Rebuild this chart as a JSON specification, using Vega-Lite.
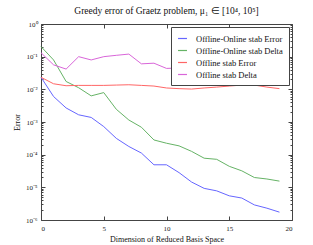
{
  "$schema": "https://vega.github.io/schema/vega-lite/v6.json",
  "autosize": "none",
  "width": 251,
  "height": 196,
  "padding": {"left": 41, "top": 24, "right": 21, "bottom": 25},
  "background": "white",
  "config": {
    "font": "Liberation Serif",
    "view": {"stroke": null},
    "axis": {"domainColor": "#444", "tickColor": "#444", "labelColor": "#222", "titleColor": "#111", "grid": false, "labelFont": "Liberation Serif", "titleFont": "Liberation Serif", "titleFontWeight": "normal"}
  },
  "title": {"text": "Greedy error of Graetz problem, μ₁ ∈ [10⁴, 10⁵]", "fontSize": 9.5, "fontWeight": "normal", "font": "Liberation Serif", "color": "#111", "anchor": "middle", "offset": 5},
  "data": {"values": [
    {"d":0,"s":"Offline-Online stab Error","v":0.0234},{"d":1,"s":"Offline-Online stab Error","v":0.00603},{"d":2,"s":"Offline-Online stab Error","v":0.00269},{"d":3,"s":"Offline-Online stab Error","v":0.00166},{"d":4,"s":"Offline-Online stab Error","v":0.00138},{"d":5,"s":"Offline-Online stab Error","v":0.000724},{"d":6,"s":"Offline-Online stab Error","v":0.000316},{"d":7,"s":"Offline-Online stab Error","v":0.000178},{"d":8,"s":"Offline-Online stab Error","v":0.000112},{"d":9,"s":"Offline-Online stab Error","v":0.000049},{"d":10,"s":"Offline-Online stab Error","v":0.000049},{"d":11,"s":"Offline-Online stab Error","v":0.0000282},{"d":12,"s":"Offline-Online stab Error","v":0.0000145},{"d":13,"s":"Offline-Online stab Error","v":0.0000093},{"d":14,"s":"Offline-Online stab Error","v":0.0000078},{"d":15,"s":"Offline-Online stab Error","v":0.0000055},{"d":16,"s":"Offline-Online stab Error","v":0.0000047},{"d":17,"s":"Offline-Online stab Error","v":0.0000029},{"d":18,"s":"Offline-Online stab Error","v":0.0000023},{"d":19,"s":"Offline-Online stab Error","v":0.00000174},
    {"d":0,"s":"Offline-Online stab Delta","v":0.204},{"d":1,"s":"Offline-Online stab Delta","v":0.0794},{"d":2,"s":"Offline-Online stab Delta","v":0.0174},{"d":3,"s":"Offline-Online stab Delta","v":0.0112},{"d":4,"s":"Offline-Online stab Delta","v":0.00631},{"d":5,"s":"Offline-Online stab Delta","v":0.00794},{"d":6,"s":"Offline-Online stab Delta","v":0.00245},{"d":7,"s":"Offline-Online stab Delta","v":0.00115},{"d":8,"s":"Offline-Online stab Delta","v":0.000692},{"d":9,"s":"Offline-Online stab Delta","v":0.000282},{"d":10,"s":"Offline-Online stab Delta","v":0.000224},{"d":11,"s":"Offline-Online stab Delta","v":0.000186},{"d":12,"s":"Offline-Online stab Delta","v":0.000126},{"d":13,"s":"Offline-Online stab Delta","v":0.000078},{"d":14,"s":"Offline-Online stab Delta","v":0.000072},{"d":15,"s":"Offline-Online stab Delta","v":0.000044},{"d":16,"s":"Offline-Online stab Delta","v":0.000032},{"d":17,"s":"Offline-Online stab Delta","v":0.00002},{"d":18,"s":"Offline-Online stab Delta","v":0.000018},{"d":19,"s":"Offline-Online stab Delta","v":0.0000155},
    {"d":0,"s":"Offline stab Error","v":0.0234},{"d":1,"s":"Offline stab Error","v":0.0148},{"d":2,"s":"Offline stab Error","v":0.0129},{"d":3,"s":"Offline stab Error","v":0.0132},{"d":4,"s":"Offline stab Error","v":0.0132},{"d":5,"s":"Offline stab Error","v":0.0132},{"d":6,"s":"Offline stab Error","v":0.0135},{"d":7,"s":"Offline stab Error","v":0.0138},{"d":8,"s":"Offline stab Error","v":0.0132},{"d":9,"s":"Offline stab Error","v":0.0126},{"d":10,"s":"Offline stab Error","v":0.011},{"d":11,"s":"Offline stab Error","v":0.0105},{"d":12,"s":"Offline stab Error","v":0.0102},{"d":13,"s":"Offline stab Error","v":0.011},{"d":14,"s":"Offline stab Error","v":0.0117},{"d":15,"s":"Offline stab Error","v":0.0126},{"d":16,"s":"Offline stab Error","v":0.0135},{"d":17,"s":"Offline stab Error","v":0.0135},{"d":18,"s":"Offline stab Error","v":0.0117},{"d":19,"s":"Offline stab Error","v":0.0105},
    {"d":0,"s":"Offline stab Delta","v":0.132},{"d":1,"s":"Offline stab Delta","v":0.0562},{"d":2,"s":"Offline stab Delta","v":0.0417},{"d":3,"s":"Offline stab Delta","v":0.1},{"d":4,"s":"Offline stab Delta","v":0.0794},{"d":5,"s":"Offline stab Delta","v":0.1},{"d":6,"s":"Offline stab Delta","v":0.11},{"d":7,"s":"Offline stab Delta","v":0.12},{"d":8,"s":"Offline stab Delta","v":0.0603},{"d":9,"s":"Offline stab Delta","v":0.0631},{"d":10,"s":"Offline stab Delta","v":0.0437},{"d":11,"s":"Offline stab Delta","v":0.045},{"d":12,"s":"Offline stab Delta","v":0.05},{"d":13,"s":"Offline stab Delta","v":0.042},{"d":14,"s":"Offline stab Delta","v":0.046},{"d":15,"s":"Offline stab Delta","v":0.04},{"d":16,"s":"Offline stab Delta","v":0.043},{"d":17,"s":"Offline stab Delta","v":0.038},{"d":18,"s":"Offline stab Delta","v":0.041},{"d":19,"s":"Offline stab Delta","v":0.036}
  ]},
  "resolve": {"axis": {"x": "independent", "y": "independent"}},
  "layer": [
    {
      "mark": {"type": "line", "strokeWidth": 1, "opacity": 0},
      "encoding": {
        "x": {"field": "d", "type": "quantitative", "scale": {"domain": [0, 20], "nice": false},
              "axis": {"orient": "top", "values": [0, 5, 10, 15, 20], "labels": false, "title": null, "tickSize": -4, "domainWidth": 1}},
        "y": {"field": "v", "type": "quantitative", "scale": {"type": "log", "domain": [0.000001, 1], "nice": false},
              "axis": {"orient": "right", "values": [0.000001,0.000002,0.000003,0.000004,0.000005,0.000006,0.000007,0.000008,0.000009,0.00001,0.00002,0.00003,0.00004,0.00005,0.00006,0.00007,0.00008,0.00009,0.0001,0.0002,0.0003,0.0004,0.0005,0.0006,0.0007,0.0008,0.0009,0.001,0.002,0.003,0.004,0.005,0.006,0.007,0.008,0.009,0.01,0.02,0.03,0.04,0.05,0.06,0.07,0.08,0.09,0.1,0.2,0.3,0.4,0.5,0.6,0.7,0.8,0.9,1],
                       "labels": false, "title": null,
                       "tickSize": {"condition": {"test": "abs(log(datum.value)/LN10 - round(log(datum.value)/LN10)) < 0.000001", "value": -4}, "value": -2}}},
        "detail": {"field": "s"}
      }
    },
    {
      "mark": {"type": "line", "strokeWidth": 1},
      "encoding": {
        "x": {"field": "d", "type": "quantitative", "scale": {"domain": [0, 20], "nice": false},
              "axis": {"orient": "bottom", "values": [0, 5, 10, 15, 20], "title": "Dimension of Reduced Basis Space", "tickSize": -4, "labelPadding": 8, "labelFontSize": 7, "titleFontSize": 8, "titlePadding": 4}},
        "y": {"field": "v", "type": "quantitative", "scale": {"type": "log", "domain": [0.000001, 1], "nice": false},
              "axis": {"orient": "left", "values": [0.000001,0.000002,0.000003,0.000004,0.000005,0.000006,0.000007,0.000008,0.000009,0.00001,0.00002,0.00003,0.00004,0.00005,0.00006,0.00007,0.00008,0.00009,0.0001,0.0002,0.0003,0.0004,0.0005,0.0006,0.0007,0.0008,0.0009,0.001,0.002,0.003,0.004,0.005,0.006,0.007,0.008,0.009,0.01,0.02,0.03,0.04,0.05,0.06,0.07,0.08,0.09,0.1,0.2,0.3,0.4,0.5,0.6,0.7,0.8,0.9,1],
                       "labelExpr": "abs(log(datum.value)/LN10 - round(log(datum.value)/LN10)) < 0.000001 ? (datum.value >= 1 ? '10⁰' : '10⁻' + ['', '¹', '²', '³', '⁴', '⁵', '⁶'][round(-log(datum.value)/LN10)]) : ''",
                       "title": "Error", "labelFontSize": 7, "titleFontSize": 8, "labelPadding": 8, "titlePadding": 4,
                       "tickSize": {"condition": {"test": "abs(log(datum.value)/LN10 - round(log(datum.value)/LN10)) < 0.000001", "value": -4}, "value": -2}}},
        "color": {"field": "s", "type": "nominal",
                  "scale": {"domain": ["Offline-Online stab Error", "Offline-Online stab Delta", "Offline stab Error", "Offline stab Delta"], "range": ["#6666ff", "#66b366", "#ff6666", "#d966d9"]},
                  "legend": {"title": null, "orient": "top-right", "offset": 3, "symbolType": "stroke", "symbolSize": 80, "symbolStrokeWidth": 1.2, "labelFontSize": 8.5, "labelFont": "Liberation Serif", "labelColor": "#111", "rowPadding": 2, "padding": 6, "strokeColor": "#444", "fillColor": "white", "cornerRadius": 0, "labelOffset": 8}}
      }
    }
  ]
}
